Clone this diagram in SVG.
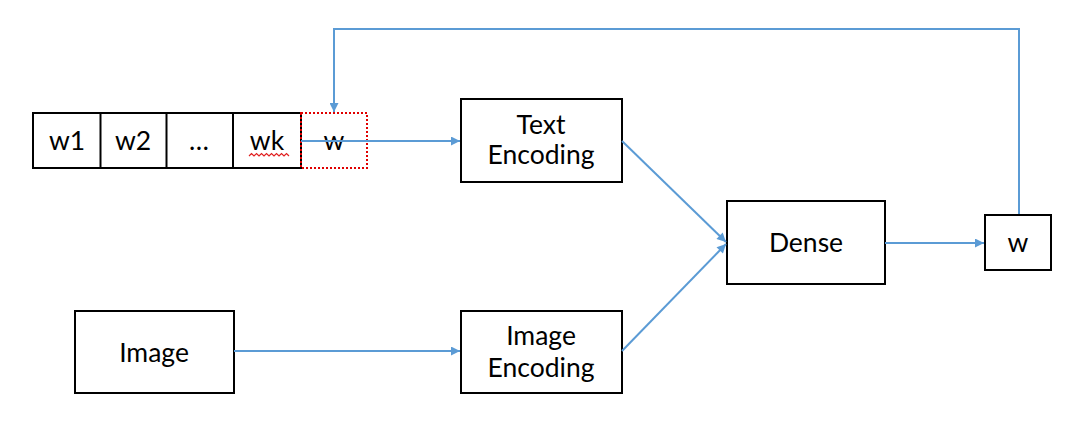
<svg xmlns="http://www.w3.org/2000/svg" width="1090" height="432" viewBox="0 0 1090 432">
<style>
.box{fill:#fff;stroke:#000;stroke-width:2}
.t{font-family:Lato,"Open Sans","Liberation Sans",sans-serif;font-size:26.5px;fill:#000;text-anchor:middle}
.c{fill:none;stroke:#5B9BD5;stroke-width:2}
</style>
<defs>
<marker id="ah" viewBox="0 0 10 10" refX="10" refY="5" markerWidth="10" markerHeight="9" markerUnits="userSpaceOnUse" orient="auto">
<path d="M0,0 L10,5 L0,10 z" fill="#5B9BD5"/>
</marker>
</defs>
<rect width="1090" height="432" fill="#fff"/>
<g id="tokens">
<rect class="box" x="33" y="113" width="268" height="55"/>
<line x1="100.5" y1="113" x2="100.5" y2="168" stroke="#000" stroke-width="2"/>
<line x1="166.5" y1="113" x2="166.5" y2="168" stroke="#000" stroke-width="2"/>
<line x1="233" y1="113" x2="233" y2="168" stroke="#000" stroke-width="2"/>
<text class="t" x="67" y="150">w1</text>
<text class="t" x="133" y="150">w2</text>
<text class="t" x="199" y="150">…</text>
<text class="t" x="267" y="150">wk</text>
<path d="M249,156 l2.5,-2.5 2.5,2.5 2.5,-2.5 2.5,2.5 2.5,-2.5 2.5,2.5 2.5,-2.5 2.5,2.5 2.5,-2.5 2.5,2.5 2.5,-2.5 2.5,2.5 2.5,-2.5 2.5,2.5 2.5,-2.5 2.5,2.5" fill="none" stroke="#e02020" stroke-width="1.2"/>
</g>
<g id="next-token">
<rect x="301" y="113" width="66" height="55" fill="none" stroke="#e00000" stroke-width="2" stroke-dasharray="2,2"/>
<text class="t" x="334" y="150">w</text>
</g>
<g id="text-encoding">
<rect class="box" x="461" y="99" width="161" height="83"/>
<text class="t" x="541" y="134">Text</text>
<text class="t" x="541" y="164">Encoding</text>
</g>
<g id="image">
<rect class="box" x="75" y="311" width="159" height="82"/>
<text class="t" x="154" y="362">Image</text>
</g>
<g id="image-encoding">
<rect class="box" x="461" y="311" width="161" height="82"/>
<text class="t" x="541" y="345">Image</text>
<text class="t" x="541" y="377">Encoding</text>
</g>
<g id="dense">
<rect class="box" x="727" y="201" width="158" height="83"/>
<text class="t" x="806" y="252">Dense</text>
</g>
<g id="output">
<rect class="box" x="985" y="215" width="66" height="55"/>
<text class="t" x="1018" y="252">w</text>
</g>
<g id="connectors">
<line class="c" x1="301" y1="141" x2="460" y2="141" marker-end="url(#ah)"/>
<line class="c" x1="234" y1="351" x2="460" y2="351" marker-end="url(#ah)"/>
<line class="c" x1="622" y1="141" x2="726" y2="242" marker-end="url(#ah)"/>
<line class="c" x1="622" y1="351" x2="726" y2="244" marker-end="url(#ah)"/>
<line class="c" x1="885" y1="243" x2="984" y2="243" marker-end="url(#ah)"/>
<polyline class="c" points="1019,214 1019,29 334,29 334,112" marker-end="url(#ah)"/>
</g>
</svg>
